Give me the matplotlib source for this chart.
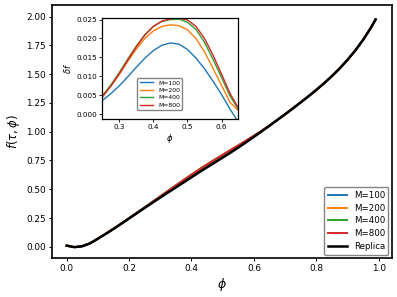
import numpy as np
import matplotlib
matplotlib.use("Agg")
import matplotlib.pyplot as plt

# grid in phi
phi = [0.000, 0.025, 0.050, 0.075, 0.100, 0.125, 0.150, 0.175, 0.200, 0.225,
       0.250, 0.275, 0.300, 0.325, 0.350, 0.375, 0.400, 0.425, 0.450, 0.475,
       0.500, 0.525, 0.550, 0.575, 0.600, 0.625, 0.650, 0.675, 0.700, 0.725,
       0.750, 0.775, 0.800, 0.825, 0.850, 0.875, 0.900, 0.925, 0.950, 0.975,
       0.990]

# replica free energy
f_replica = [0.010, -0.003, 0.005, 0.030, 0.070, 0.112, 0.155, 0.200, 0.246, 0.292,
             0.338, 0.383, 0.428, 0.472, 0.516, 0.560, 0.604, 0.648, 0.691, 0.733,
             0.775, 0.818, 0.862, 0.908, 0.955, 1.003, 1.052, 1.102, 1.152, 1.203,
             1.255, 1.308, 1.363, 1.421, 1.483, 1.550, 1.624, 1.706, 1.798, 1.903,
             1.975]

# deviation from replica for each M
df_100 = [0.0, 0.0001, 0.0003, 0.0005, 0.0008, 0.0011, 0.0015, 0.0020, 0.0025, 0.0030,
          0.0036, 0.0054, 0.0075, 0.0099, 0.0124, 0.0148, 0.0168, 0.0182, 0.0188, 0.0185,
          0.0171, 0.0148, 0.0120, 0.0087, 0.0052, 0.0013, -0.0022, -0.003, -0.003, -0.003,
          -0.002, -0.002, -0.001, -0.001, 0.0, 0.0, 0.0, 0.0, 0.0, 0.0,
          0.0]
df_200 = [0.0, 0.0001, 0.0004, 0.0007, 0.0010, 0.0014, 0.0019, 0.0025, 0.0032, 0.0039,
          0.0046, 0.0074, 0.0105, 0.0140, 0.0172, 0.0200, 0.0220, 0.0232, 0.0236, 0.0234,
          0.0223, 0.0200, 0.0165, 0.0121, 0.0076, 0.0031, 0.0009, 0.0, -0.001, -0.001,
          -0.001, -0.001, 0.0, 0.0, 0.0, 0.0, 0.0, 0.0, 0.0, 0.0,
          0.0]
df_400 = [0.0, 0.0001, 0.0004, 0.0007, 0.0011, 0.0015, 0.0020, 0.0026, 0.0033, 0.0040,
          0.0048, 0.0077, 0.0110, 0.0146, 0.0180, 0.0210, 0.0232, 0.0245, 0.0250, 0.0251,
          0.0243, 0.0224, 0.0190, 0.0145, 0.0097, 0.0048, 0.0012, 0.0, -0.001, -0.001,
          -0.001, 0.0, 0.0, 0.0, 0.0, 0.0, 0.0, 0.0, 0.0, 0.0,
          0.0]
df_800 = [0.0, 0.0001, 0.0004, 0.0007, 0.0011, 0.0015, 0.0020, 0.0026, 0.0032, 0.0039,
          0.0045, 0.0074, 0.0107, 0.0143, 0.0178, 0.0209, 0.0232, 0.0246, 0.0252, 0.0254,
          0.0249, 0.0232, 0.0200, 0.0156, 0.0106, 0.0055, 0.0015, 0.0, -0.001, -0.001,
          -0.001, 0.0, 0.0, 0.0, 0.0, 0.0, 0.0, 0.0, 0.0, 0.0,
          0.0]

labels = ["M=100", "M=200", "M=400", "M=800"]
colors = ["#1f77b4", "#ff7f0e", "#2ca02c", "#d62728"]
deltas = [df_100, df_200, df_400, df_800]

phi_a = np.array(phi)
f_rep = np.array(f_replica)

fig = plt.figure(figsize=(3.97, 2.97), dpi=100)
ax = fig.add_axes([0.131, 0.131, 0.856, 0.852])

for lab, c, d in zip(labels, colors, deltas):
    ax.plot(phi_a, f_rep + np.array(d), color=c, lw=1.4, label=lab)
ax.plot(phi_a, f_rep, color="black", lw=1.8, label="Replica")

ax.set_xlim(-0.047, 1.042)
ax.set_ylim(-0.098, 2.10)
ax.set_xticks([0.0, 0.2, 0.4, 0.6, 0.8, 1.0])
ax.set_yticks([0.0, 0.25, 0.5, 0.75, 1.0, 1.25, 1.5, 1.75, 2.0])
ax.yaxis.set_major_formatter(matplotlib.ticker.FormatStrFormatter("%.2f"))
ax.tick_params(labelsize=6.4, length=2.5, width=0.7, pad=2)
for s in ax.spines.values():
    s.set_linewidth(1.2)
ax.set_xlabel(r"$\phi$", fontsize=9, labelpad=2)
ax.set_ylabel(r"$f(\tau,\phi)$", fontsize=8.5, labelpad=3)
leg = ax.legend(loc="lower right", fontsize=6.2, handlelength=2.2,
                borderaxespad=0.4, labelspacing=0.45, borderpad=0.4)
leg.get_frame().set_edgecolor("0.4")

# inset
ins = fig.add_axes([0.256, 0.598, 0.344, 0.340])
for lab, c, d in zip(labels, colors, deltas):
    ins.plot(phi_a, d, color=c, lw=1.0, label=lab)
ins.set_xlim(0.248, 0.649)
ins.set_ylim(-0.0014, 0.0253)
ins.set_xticks([0.3, 0.4, 0.5, 0.6])
ins.set_yticks([0.0, 0.005, 0.01, 0.015, 0.02, 0.025])
ins.yaxis.set_major_formatter(matplotlib.ticker.FormatStrFormatter("%.3f"))
ins.tick_params(labelsize=5.2, length=2, width=0.6, pad=1.5)
for s in ins.spines.values():
    s.set_linewidth(0.9)
ins.set_xlabel(r"$\phi$", fontsize=6, labelpad=1)
ins.set_ylabel(r"$\delta f$", fontsize=6, labelpad=2)
ileg = ins.legend(loc="lower left", bbox_to_anchor=(0.26, 0.09), fontsize=4.4,
                  handlelength=2.2, labelspacing=0.35, borderpad=0.4, borderaxespad=0)
ileg.get_frame().set_edgecolor("0.4")

fig.savefig("out.png", dpi=100)
